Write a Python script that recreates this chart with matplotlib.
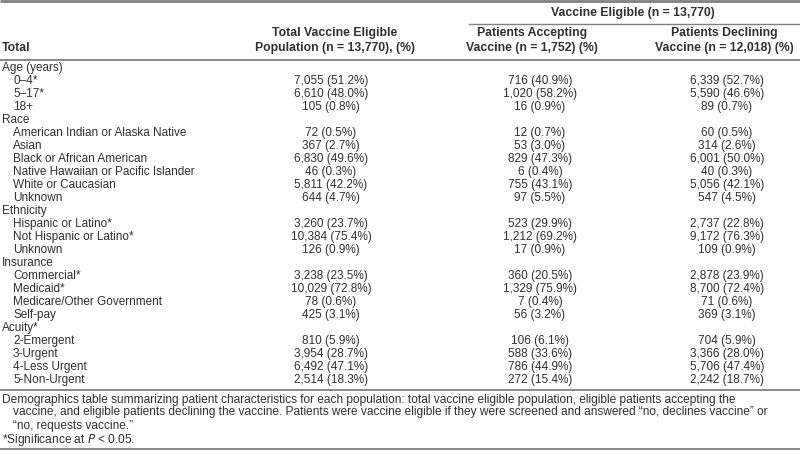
import matplotlib.pyplot as plt

# Table data
groups = ["Age (years)", "Race", "Ethnicity", "Insurance", "Acuity*"]
group_rows = [
    ["0\u20134*", "5\u201317*", "18+"],
    ["American Indian or Alaska Native", "Asian", "Black or African American",
     "Native Hawaiian or Pacific Islander", "White or Caucasian", "Unknown"],
    ["Hispanic or Latino*", "Not Hispanic or Latino*", "Unknown"],
    ["Commercial*", "Medicaid*", "Medicare/Other Government", "Self-pay"],
    ["2-Emergent", "3-Urgent", "4-Less Urgent", "5-Non-Urgent"],
]

total_n = [7055, 6610, 105, 72, 367, 6830, 46, 5811, 644, 3260, 10384, 126,
           3238, 10029, 78, 425, 810, 3954, 6492, 2514]
total_pct = [51.2, 48.0, 0.8, 0.5, 2.7, 49.6, 0.3, 42.2, 4.7, 23.7, 75.4, 0.9,
             23.5, 72.8, 0.6, 3.1, 5.9, 28.7, 47.1, 18.3]
accept_n = [716, 1020, 16, 12, 53, 829, 6, 755, 97, 523, 1212, 17,
            360, 1329, 7, 56, 106, 588, 786, 272]
accept_pct = [40.9, 58.2, 0.9, 0.7, 3.0, 47.3, 0.4, 43.1, 5.5, 29.9, 69.2, 0.9,
              20.5, 75.9, 0.4, 3.2, 6.1, 33.6, 44.9, 15.4]
decline_n = [6339, 5590, 89, 60, 314, 6001, 40, 5056, 547, 2737, 9172, 109,
             2878, 8700, 71, 369, 704, 3366, 5706, 2242]
decline_pct = [52.7, 46.6, 0.7, 0.5, 2.6, 50.0, 0.3, 42.1, 4.5, 22.8, 76.3, 0.9,
               23.9, 72.4, 0.6, 3.1, 5.9, 28.0, 47.4, 18.7]

col_headers = ["Total Vaccine Eligible\nPopulation (n = 13,770), (%)",
               "Patients Accepting\nVaccine (n = 1,752) (%)",
               "Patients Declining\nVaccine (n = 12,018) (%)"]
span_header = "Vaccine Eligible (n = 13,770)"
caption = [
    "Demographics table summarizing patient characteristics for each population: "
    "total vaccine eligible population, eligible patients accepting the",
    "vaccine, and eligible patients declining the vaccine. Patients were vaccine "
    "eligible if they were screened and answered \u201cno, declines vaccine\u201d or",
    "\u201cno, requests vaccine.\u201d",
]

plt.rcParams["font.family"] = ["Liberation Sans", "DejaVu Sans"]
ink = "#303030"
rule = "#808080"
fs = 8.5       # row labels and cell values
fs_head = 8.8  # bold headers
fs_cap = 8.6   # caption

fig = plt.figure(figsize=(8, 4.55), dpi=100)
ax = fig.add_axes([0, 0, 1, 1])
ax.set_xlim(0, 800)
ax.set_ylim(455, 0)
ax.axis("off")

col_x = [331, 540, 727]
head_x = [335, 532, 724]

# header
ax.plot([0, 800], [1.2, 1.2], color=rule, lw=2.0, solid_capstyle="butt")
ax.text(633, 13, span_header, ha="center", va="center", fontsize=fs_head,
        fontweight="bold", color=ink)
ax.plot([469, 800], [23.5, 23.5], color=rule, lw=1.0)
for x, h in zip(head_x, col_headers):
    ax.text(x, 40.5, h, ha="center", va="center", fontsize=fs_head,
            fontweight="bold", color=ink, linespacing=1.3)
ax.text(2, 48, "Total", ha="left", va="center", fontsize=fs_head,
        fontweight="bold", color=ink)
ax.plot([0, 800], [59.5, 59.5], color=rule, lw=1.3)

# body
y0, dy = 68, 13.0
row = 0
k = 0
for g, items in zip(groups, group_rows):
    ax.text(2, y0 + row * dy, g, ha="left", va="center", fontsize=fs, color=ink)
    row += 1
    for it in items:
        y = y0 + row * dy
        ax.text(13, y, it, ha="left", va="center", fontsize=fs, color=ink)
        vals = [(total_n[k], total_pct[k]), (accept_n[k], accept_pct[k]),
                (decline_n[k], decline_pct[k])]
        for x, (n, p) in zip(col_x, vals):
            ax.text(x, y, f"{n:,} ({p:.1f}%)", ha="center", va="center",
                    fontsize=fs, color=ink)
        row += 1
        k += 1

line_y = y0 + (row - 1) * dy + 9.5
ax.plot([0, 800], [line_y, line_y], color=rule, lw=1.3)

# caption
cy = line_y + 10
for i, line in enumerate(caption):
    ax.text(2 if i == 0 else 13, cy + i * 13, line, ha="left", va="center",
            fontsize=fs_cap, color=ink)
ax.text(2, cy + 3 * 13 + 1, "*Significance at $\\it{P}$ < 0.05.", ha="left",
        va="center", fontsize=fs_cap, color=ink)
ax.plot([0, 800], [cy + 3 * 13 + 10.5] * 2, color=rule, lw=1.3)

fig.savefig("out.png", dpi=100)
